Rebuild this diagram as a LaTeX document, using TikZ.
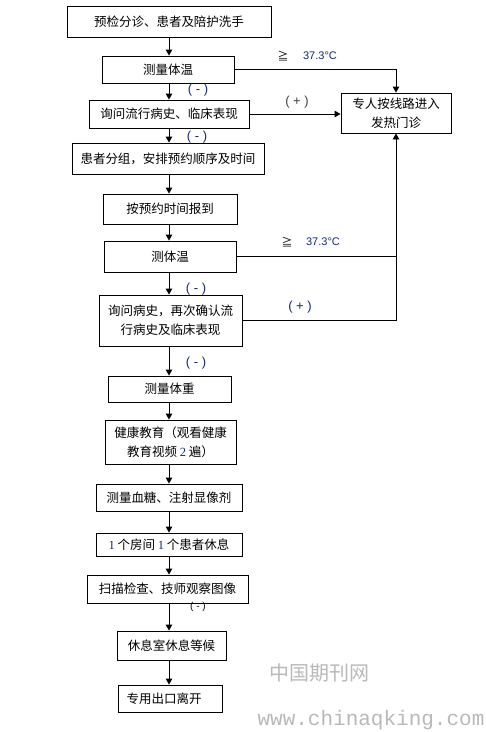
\documentclass[tikz,border=0pt]{standalone}
\usepackage{fontspec}
\setmainfont{Noto Sans CJK SC}
\newfontfamily\tnr{Liberation Serif}
\newfontfamily\arial{Liberation Sans}
\newfontfamily\mono{Liberation Mono}
\usetikzlibrary{arrows.meta}
\definecolor{navy}{RGB}{20,40,120}
\definecolor{wm}{RGB}{185,185,185}
\tikzset{
  box/.style={draw=black, line width=0.9pt, inner sep=0pt, align=center,
    font=\fontsize{12.5}{19}\selectfont},
  arr/.style={line width=0.9pt, -{Triangle[length=6pt,width=6.5pt]}},
  con/.style={line width=0.9pt},
  neg/.style={font=\arial\fontsize{13}{14}\selectfont, text=navy, inner sep=0pt},
  thr/.style={font=\fontsize{11}{12}\selectfont, inner sep=0pt}
}
\begin{document}
\begin{tikzpicture}[x=1pt,y=-1pt]
\path[use as bounding box, fill=white] (0,0) rectangle (486,732);
\coordinate (col) at (169,0);

\node[box, minimum width=204pt, minimum height=31pt] (b1) at (169,21.5) {预检分诊、患者及陪护洗手};
\node[box, minimum width=132pt, minimum height=27pt] (b2) at (168,69.5) {测量体温};
\node[box, minimum width=160pt, minimum height=28pt] (b3) at (169,114) {询问流行病史、临床表现};
\node[box, minimum width=110pt, minimum height=40pt] (b4) at (396,113) {专人按线路进入\\发热门诊};
\node[box, minimum width=192pt, minimum height=31pt] (b5) at (168,158.5) {患者分组，安排预约顺序及时间};
\node[box, minimum width=134pt, minimum height=30pt] (b6) at (170,209) {按预约时间报到};
\node[box, minimum width=132pt, minimum height=31pt] (b7) at (170,256.5) {测体温};
\node[box, minimum width=143pt, minimum height=51pt] (b8) at (170.5,320.5) {询问病史，再次确认流\\行病史及临床表现};
\node[box, minimum width=123pt, minimum height=26pt] (b9) at (169.5,389) {测量体重};
\node[box, minimum width=131pt, minimum height=44pt] (b10) at (170.5,442) {健康教育（观看健康\\教育视频 {\tnr\color{navy}2} 遍）};
\node[box, minimum width=146pt, minimum height=27pt] (b11) at (169,497.5) {测量血糖、注射显像剂};
\node[box, minimum width=146pt, minimum height=23pt] (b12) at (169,544.5) {{\tnr\color{navy}1} 个房间 {\tnr\color{navy}1} 个患者休息};
\node[box, minimum width=161pt, minimum height=28pt] (b13) at (167.5,589) {扫描检查、技师观察图像};
\node[box, minimum width=109pt, minimum height=29pt] (b14) at (171.5,645.5) {休息室休息等候};
\node[box, minimum width=104pt, minimum height=27pt] (b15) at (170,698.5) {专用出口离开\hspace{12pt}};

% vertical arrows
\foreach \a/\b in {b1/b2,b2/b3,b3/b5,b5/b6,b6/b7,b7/b8,b8/b9,b9/b10,b10/b11,b11/b12,b12/b13,b13/b14,b14/b15}
  \draw[arr] (\a.south -| col) -- (\b.north -| col);

% side connectors
\draw[arr] (b2.east) -| (b4.north);
\draw[arr] (b3.east) -- (b3.east -| b4.west);
\draw[arr] (b7.east) -| (b4.south);
\coordinate (j) at (b4.south |- b7.east);
\draw[con] (b8.east) -| (j);

% labels
\node[thr] (g1) at (283,56) {≧};
\node[thr, font=\arial\fontsize{11}{12}\selectfont, text=navy] (t1) at (320,56) {37.3°C};
\node[thr] (g2) at (287,242) {≧};
\node[thr, font=\arial\fontsize{11}{12}\selectfont, text=navy] (t2) at (323,242) {37.3°C};
\node[neg, text=black!75] (p1) at (297,102) {( + )};
\node[neg] (p2) at (300,307) {( + )};
\node[neg] (m1) at (198,90) {( - )};
\node[neg] (m2) at (197,137) {( - )};
\node[neg] (m3) at (196,289) {( - )};
\node[neg] (m4) at (196,363) {( - )};
\node[neg, text=black, font=\arial\fontsize{10}{11}\selectfont] (m5) at (198,607) {( - )};

% watermark
\node[inner sep=0pt, text=wm, font=\fontsize{20}{22}\selectfont] (w1) at (319,673) {中国期刊网};
\node[inner sep=0pt, text=wm, font=\mono\fontsize{21}{22}\selectfont] (w2) at (371,720) {www.chinaqking.com};
\end{tikzpicture}
\end{document}
